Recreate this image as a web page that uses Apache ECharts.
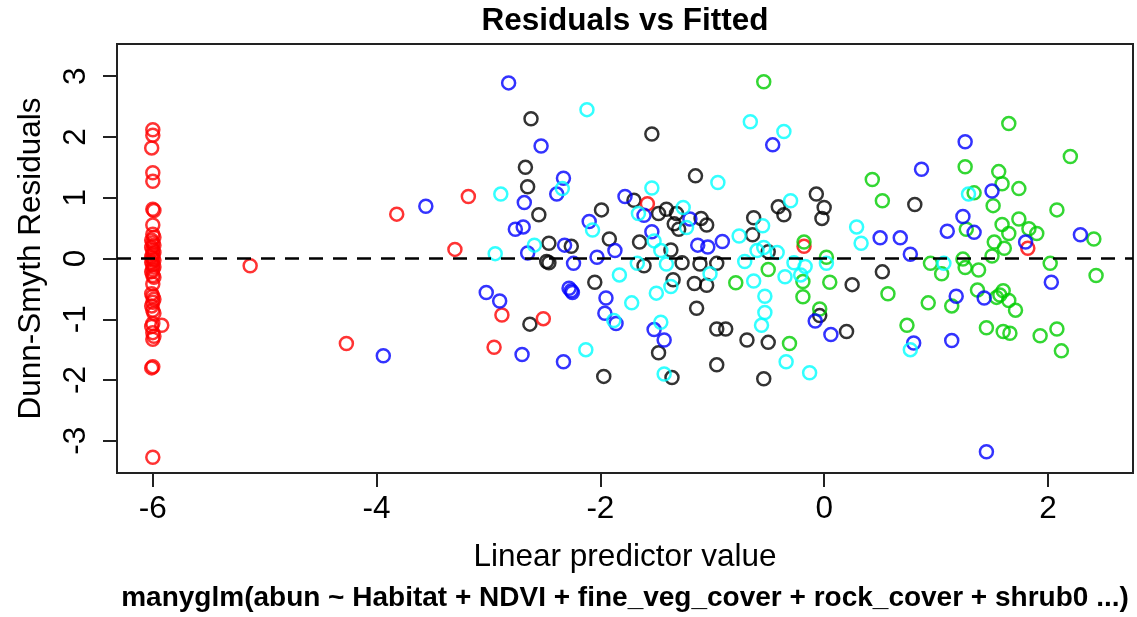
<!DOCTYPE html>
<html>
<head>
<meta charset="utf-8">
<script src="https://cdn.jsdelivr.net/npm/echarts@6/dist/echarts.min.js"></script>
<style>
html,body{margin:0;padding:0;background:#fff;}
#chart{width:1137px;height:617px;}
</style>
</head>
<body>
<div id="chart"></div>
<script>
// ---- data ----
const titleText = 'Residuals vs Fitted';
const subText = 'manyglm(abun ~ Habitat + NDVI + fine_veg_cover + rock_cover + shrub0 ...)';
const xName = 'Linear predictor value';
const yName = 'Dunn-Smyth Residuals';
const xTicks = [-6, -4, -2, 0, 2];
const yTicks = [-3, -2, -1, 0, 1, 2, 3];

const redPts = [
  [-6.00,2.12],[-6.00,2.03],[-6.01,1.82],[-6.00,1.41],[-6.00,1.27],[-6.00,0.81],[-5.99,0.79],[-6.00,0.55],
  [-6.00,0.40],[-5.99,0.35],[-6.01,0.30],[-6.00,0.26],[-5.99,0.22],[-6.01,0.18],[-6.00,0.14],[-5.99,0.10],
  [-6.00,0.07],[-6.01,0.03],[-6.00,0.00],[-5.99,-0.03],[-6.01,-0.06],[-6.00,-0.10],[-5.99,-0.14],[-6.00,-0.18],
  [-6.01,-0.22],[-6.00,-0.28],[-5.99,-0.31],[-6.00,-0.42],[-6.01,-0.58],[-6.00,-0.62],[-5.99,-0.67],[-6.00,-0.72],
  [-6.01,-0.78],[-6.00,-0.85],[-5.99,-0.90],[-6.00,-1.07],[-6.01,-1.12],[-6.00,-1.22],[-5.99,-1.28],[-6.00,-1.33],
  [-6.00,-1.78],[-6.01,-1.80],[-6.00,-3.27],[-5.92,-1.10],
  [-5.13,-0.12],[-3.82,0.73],[-3.30,0.15],[-3.18,1.02],[-4.27,-1.40],[-2.88,-0.93],[-2.51,-0.99],[-2.95,-1.46],
  [-1.58,0.90],[-0.18,0.20],[1.82,0.17]
];
const bluePts = [
  [-3.94,-1.60],[-3.56,0.86],[-2.82,2.89],[-2.53,1.85],[-2.33,1.32],[-2.39,1.06],[-2.68,0.92],[-2.76,0.48],
  [-2.69,0.52],[-1.78,1.02],[-2.10,0.61],[-2.65,0.09],[-2.32,0.22],[-1.87,0.13],[-2.03,0.02],[-2.24,-0.08],
  [-2.28,-0.49],[-2.26,-0.53],[-2.25,-0.56],[-1.95,-0.65],[-1.96,-0.90],[-1.86,-1.07],[-3.02,-0.56],[-2.90,-0.70],
  [-2.70,-1.58],[-2.33,-1.70],[-0.46,1.87],[-1.61,0.71],[-1.20,0.65],[-1.54,0.44],[-1.13,0.22],[-1.04,0.19],
  [-0.91,0.28],[-1.52,-1.17],[-1.43,-1.34],[-0.08,-1.03],[0.06,-1.25],[0.50,0.34],[1.26,1.92],[0.87,1.47],
  [1.50,1.11],[1.24,0.69],[1.10,0.45],[1.34,0.43],[0.68,0.34],[0.77,0.07],[1.80,0.27],[2.29,0.39],
  [2.03,-0.39],[1.18,-0.62],[1.43,-0.65],[0.80,-1.39],[1.14,-1.35],[1.45,-3.18]
];
const cyanPts = [
  [-2.12,2.45],[-2.34,1.15],[-2.89,1.06],[-1.66,0.74],[-2.07,0.47],[-2.94,0.08],[-2.59,0.22],[-1.67,-0.08],
  [-1.83,-0.27],[-1.72,-0.73],[-1.88,-1.02],[-2.13,-1.50],[-0.66,2.25],[-0.36,2.09],[-0.95,1.25],[-1.54,1.16],
  [-1.26,0.84],[-1.23,0.51],[-1.52,0.29],[-1.46,0.13],[-0.76,0.37],[-0.55,0.54],[-0.60,0.13],[-0.54,0.18],
  [-0.42,0.10],[-0.30,0.95],[0.29,0.52],[0.33,0.25],[-1.41,-0.09],[-1.02,-0.25],[-1.37,-0.46],[-1.50,-0.57],
  [-1.46,-1.05],[-1.43,-1.90],[-0.71,-0.05],[-0.63,-0.37],[-0.53,-0.62],[-0.53,-0.89],[-0.56,-1.10],[-0.35,-0.30],
  [-0.27,-0.07],[-0.17,-0.13],[-0.21,-0.27],[-0.34,-1.70],[-0.13,-1.88],[0.02,-0.08],[1.29,1.06],[1.07,-0.08],
  [0.77,-1.50]
];
const blackPts = [
  [-2.62,2.30],[-2.67,1.50],[-2.65,1.18],[-2.55,0.72],[-1.99,0.80],[-1.70,0.96],[-2.46,0.25],[-2.26,0.20],
  [-1.92,0.32],[-2.48,-0.05],[-2.46,-0.07],[-1.65,0.27],[-2.05,-0.39],[-2.63,-1.08],[-1.97,-1.94],[-1.54,2.05],
  [-1.15,1.36],[-1.48,0.74],[-1.41,0.81],[-1.32,0.74],[-1.34,0.57],[-1.30,0.48],[-1.10,0.66],[-1.05,0.55],
  [-1.37,0.14],[-0.63,0.67],[-0.64,0.39],[-0.50,0.11],[-0.41,0.85],[-0.36,0.72],[-0.07,1.06],[0.00,0.84],
  [-0.02,0.66],[-1.61,-0.12],[-1.27,-0.07],[-1.11,-0.09],[-0.96,-0.08],[-1.35,-0.35],[-1.16,-0.41],[-1.05,-0.44],
  [-1.14,-0.82],[-1.48,-1.55],[-1.36,-1.96],[-0.96,-1.16],[-0.88,-1.16],[-0.96,-1.75],[-0.69,-1.34],[-0.50,-1.38],
  [-0.54,-1.98],[-0.04,-0.94],[0.20,-1.20],[0.25,-0.43],[0.52,-0.22],[0.81,0.89]
];
const greenPts = [
  [-0.54,2.91],[0.43,1.30],[0.52,0.95],[-0.18,0.27],[0.02,0.02],[-0.50,-0.18],[-0.79,-0.40],[-0.19,-0.38],
  [-0.19,-0.63],[-0.04,-0.83],[-0.31,-1.40],[0.05,-0.39],[1.65,2.22],[2.20,1.68],[1.26,1.51],[1.56,1.43],
  [1.59,1.23],[1.74,1.15],[1.34,1.08],[1.51,0.87],[2.08,0.80],[1.59,0.56],[1.74,0.65],[1.83,0.49],
  [1.90,0.41],[1.65,0.41],[1.27,0.48],[1.52,0.27],[1.61,0.17],[1.50,0.04],[2.41,0.32],[1.24,-0.01],
  [0.95,-0.08],[2.02,-0.08],[0.57,-0.58],[1.05,-0.25],[1.26,-0.15],[1.38,-0.19],[2.43,-0.28],[0.93,-0.73],
  [1.14,-0.78],[1.37,-0.52],[1.54,-0.64],[1.60,-0.53],[1.65,-0.69],[1.71,-0.85],[1.57,-0.60],[0.74,-1.10],
  [1.45,-1.14],[1.60,-1.20],[1.66,-1.23],[1.93,-1.27],[2.08,-1.16],[2.12,-1.52]
];

const seriesList = [
  {name:'black', color:'#000000', data: blackPts},
  {name:'red',   color:'#FF0000', data: redPts},
  {name:'green', color:'#00CD00', data: greenPts},
  {name:'blue',  color:'#0000FF', data: bluePts},
  {name:'cyan',  color:'#00FFFF', data: cyanPts}
];

const FONT = '"Liberation Sans", Arial, sans-serif';
const chart = echarts.init(document.getElementById('chart'), null, {renderer:'canvas'});

const series = seriesList.map((s) => ({
  type: 'scatter',
  name: s.name,
  data: s.data,
  symbol: 'circle',
  symbolSize: 13,
  itemStyle: { color: 'rgba(0,0,0,0)', borderColor: s.color, borderWidth: 2.5 },
  emphasis: { disabled: true },
  animation: false,
  silent: true,
  z: 3
}));
series.push({
  type: 'line',
  data: [],
  animation: false,
  silent: true,
  markLine: {
    silent: true,
    symbol: ['none','none'],
    label: {show:false},
    animation: false,
    lineStyle: {color:'#000', type:[14,10], width:2.5},
    data: [{yAxis: 0}]
  },
  z: 2
});

chart.setOption({
  backgroundColor: '#fff',
  animation: false,
  title: [
    {text: titleText, left: 625, top: 5, textAlign: 'center', padding: 0,
     textStyle: {fontFamily: FONT, fontSize: 31.5, fontWeight: 'bold', color: '#000'}},
    {text: subText, left: 625, top: 584, textAlign: 'center', padding: 0,
     textStyle: {fontFamily: FONT, fontSize: 28, fontWeight: 'bold', color: '#000'}}
  ],
  grid: {left: 117, right: 4, top: 44, bottom: 144, show: true, borderColor: '#222', borderWidth: 2, backgroundColor: 'transparent'},
  xAxis: {
    type: 'value', min: -6.32, max: 2.76,
    name: xName, nameLocation: 'middle', nameGap: 68,
    nameTextStyle: {fontFamily: FONT, fontSize: 31.5, color: '#000'},
    axisLine: {show: false, onZero: false},
    axisTick: {show: true, inside: false, length: 14, customValues: xTicks, lineStyle: {color: '#222', width: 2}},
    axisLabel: {customValues: xTicks, margin: 20, fontFamily: FONT, fontSize: 31.5, color: '#000'},
    splitLine: {show: false}
  },
  yAxis: {
    type: 'value', min: -3.53, max: 3.53,
    name: yName, nameLocation: 'middle', nameGap: 70,
    nameTextStyle: {fontFamily: FONT, fontSize: 31.5, color: '#000'},
    axisLine: {show: false, onZero: false},
    axisTick: {show: true, inside: false, length: 14, customValues: yTicks, lineStyle: {color: '#222', width: 2}},
    axisLabel: {customValues: yTicks, rotate: 90, margin: 25, fontFamily: FONT, fontSize: 31.5, color: '#000'},
    splitLine: {show: false}
  },
  series: series
});
</script>
</body>
</html>
